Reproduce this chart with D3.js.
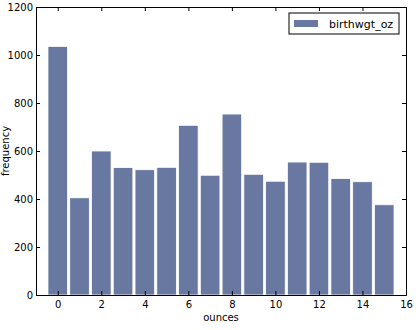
<!DOCTYPE html>
<html>
<head>
<meta charset="utf-8">
<script src="https://cdn.jsdelivr.net/npm/d3@7"></script>
<style>
  body { margin: 0; background: #fff; }
  text { font-family: "DejaVu Sans", sans-serif; fill: #000; }
</style>
</head>
<body>
<div id="chart"></div>
<script>
// birthwgt_oz histogram, one bar per ounce value
const ounces = [0, 1, 2, 3, 4, 5, 6, 7, 8, 9, 10, 11, 12, 13, 14, 15];
const counts = [1036, 405, 600, 531, 522, 532, 707, 499, 754, 503, 474, 554, 553, 485, 472, 376];
const xTicks = [0, 2, 4, 6, 8, 10, 12, 14, 16];
const yTicks = [0, 200, 400, 600, 800, 1000, 1200];
const seriesName = "birthwgt_oz";

const W = 418, H = 330;
const margin = {left: 36, right: 12, top: 7, bottom: 35};
const width = W - margin.left - margin.right,
      height = H - margin.top - margin.bottom;

const x = d3.scaleLinear().domain([-1, 16]).range([0, width]);
const y = d3.scaleLinear().domain([0, 1200]).range([height, 0]);

const svg = d3.select("#chart").append("svg")
    .attr("width", W)
    .attr("height", H)
  .append("g")
    .attr("transform", "translate(" + margin.left + "," + margin.top + ")");

// bars
svg.selectAll(".bar")
    .data(ounces)
  .enter().append("rect")
    .attr("class", "bar")
    .attr("x", d => x(d - 0.45))
    .attr("width", x(0.9) - x(0))
    .attr("y", (d, i) => y(counts[i]))
    .attr("height", (d, i) => height - y(counts[i]))
    .attr("fill", "#6878a0")
    .attr("stroke", "#fff")
    .attr("stroke-width", 0.8);

// axes (ticks point inward, like classic matplotlib)
const fs = "10px";
svg.append("g")
    .attr("transform", "translate(0," + height + ")")
    .call(d3.axisBottom(x).tickValues(xTicks).tickSize(-4).tickPadding(6).tickFormat(d3.format("d")))
    .call(g => g.selectAll("text").style("font-size", fs));
svg.append("g")
    .call(d3.axisTop(x).tickValues(xTicks).tickSize(-4).tickFormat(""));
svg.append("g")
    .call(d3.axisLeft(y).tickValues(yTicks).tickSize(-4).tickPadding(3).tickFormat(d3.format("d")))
    .call(g => g.selectAll("text").style("font-size", fs));
svg.append("g")
    .attr("transform", "translate(" + width + ",0)")
    .call(d3.axisRight(y).tickValues(yTicks).tickSize(-4).tickFormat(""));
svg.selectAll(".domain").attr("stroke", "#000");
svg.selectAll(".tick line").attr("stroke", "#000");

// axis labels
svg.append("text")
    .attr("x", width / 2)
    .attr("y", height + 26)
    .attr("text-anchor", "middle")
    .style("font-size", "10px")
    .text("ounces");
svg.append("text")
    .attr("transform", "rotate(-90)")
    .attr("x", -height / 2)
    .attr("y", -27)
    .attr("text-anchor", "middle")
    .style("font-size", "10px")
    .text("frequency");

// legend
const lg = svg.append("g").attr("transform", "translate(" + (width - 117) + ",6)");
lg.append("rect")
    .attr("width", 110).attr("height", 21)
    .attr("fill", "#fff").attr("stroke", "#000").attr("stroke-width", 1);
lg.append("rect")
    .attr("x", 5).attr("y", 7).attr("width", 24).attr("height", 7)
    .attr("fill", "#6878a0");
lg.append("text")
    .attr("x", 40).attr("y", 15)
    .style("font-size", "11px")
    .text(seriesName);
</script>
</body>
</html>
